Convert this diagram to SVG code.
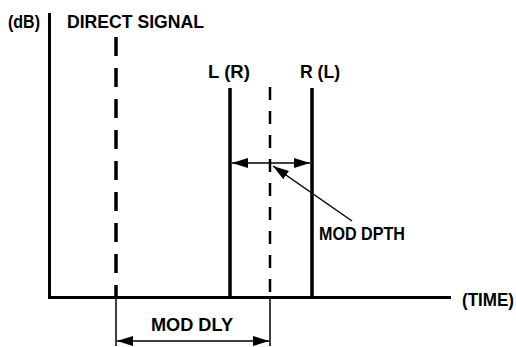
<svg xmlns="http://www.w3.org/2000/svg" width="516" height="347" viewBox="0 0 516 347">
<style>
text{font-family:"Liberation Sans",Arial,sans-serif;font-weight:bold;font-size:18px;fill:#000}
.ax{stroke:#000;stroke-width:3;fill:none}
.sig{stroke:#000;stroke-width:3.5;fill:none}
.thin{stroke:#000;stroke-width:1.5;fill:none}
</style>
<defs>
<marker id="ah" viewBox="0 0 16 10" refX="16" refY="5" markerWidth="16" markerHeight="10" markerUnits="userSpaceOnUse" orient="auto">
<path d="M0,0 L16,5 L0,10 Z" fill="#000"/>
</marker>
</defs>
<g id="axes">
<line class="ax" x1="49.5" y1="13" x2="49.5" y2="298"/>
<line class="ax" x1="48" y1="297.5" x2="451" y2="297.5"/>
<text x="8" y="28" textLength="32" lengthAdjust="spacingAndGlyphs">(dB)</text>
<text x="462" y="306" textLength="52" lengthAdjust="spacingAndGlyphs">(TIME)</text>
</g>
<g id="direct-signal">
<line class="sig" x1="116" y1="37" x2="116" y2="297" stroke-dasharray="19 12"/>
<text x="67" y="28" textLength="137" lengthAdjust="spacingAndGlyphs">DIRECT SIGNAL</text>
</g>
<g id="l-r">
<line class="sig" x1="230" y1="88" x2="230" y2="298"/>
<text x="208" y="78" textLength="42" lengthAdjust="spacingAndGlyphs">L (R)</text>
</g>
<g id="r-l">
<line class="sig" x1="312" y1="88" x2="312" y2="298"/>
<text x="300" y="78" textLength="40" lengthAdjust="spacingAndGlyphs">R (L)</text>
</g>
<g id="center">
<line x1="270" y1="87" x2="270" y2="297" stroke="#000" stroke-width="2.5" stroke-dasharray="13 11"/>
</g>
<g id="mod-dpth">
<text x="319" y="240" textLength="86" lengthAdjust="spacingAndGlyphs">MOD DPTH</text>
</g>
<g id="mod-dly">
<text x="151" y="331" textLength="82" lengthAdjust="spacingAndGlyphs">MOD DLY</text>
</g>
<g id="connectors">
<line class="thin" x1="270" y1="163" x2="232" y2="163" marker-end="url(#ah)"/>
<line class="thin" x1="270" y1="163" x2="310" y2="163" marker-end="url(#ah)"/>
<line class="thin" x1="352" y1="221" x2="273" y2="166" marker-end="url(#ah)"/>
<line class="thin" x1="116" y1="298" x2="116" y2="346"/>
<line class="thin" x1="270" y1="298" x2="270" y2="346"/>
<line class="thin" x1="193" y1="341" x2="117" y2="341" marker-end="url(#ah)"/>
<line class="thin" x1="193" y1="341" x2="269" y2="341" marker-end="url(#ah)"/>
</g>
</svg>
